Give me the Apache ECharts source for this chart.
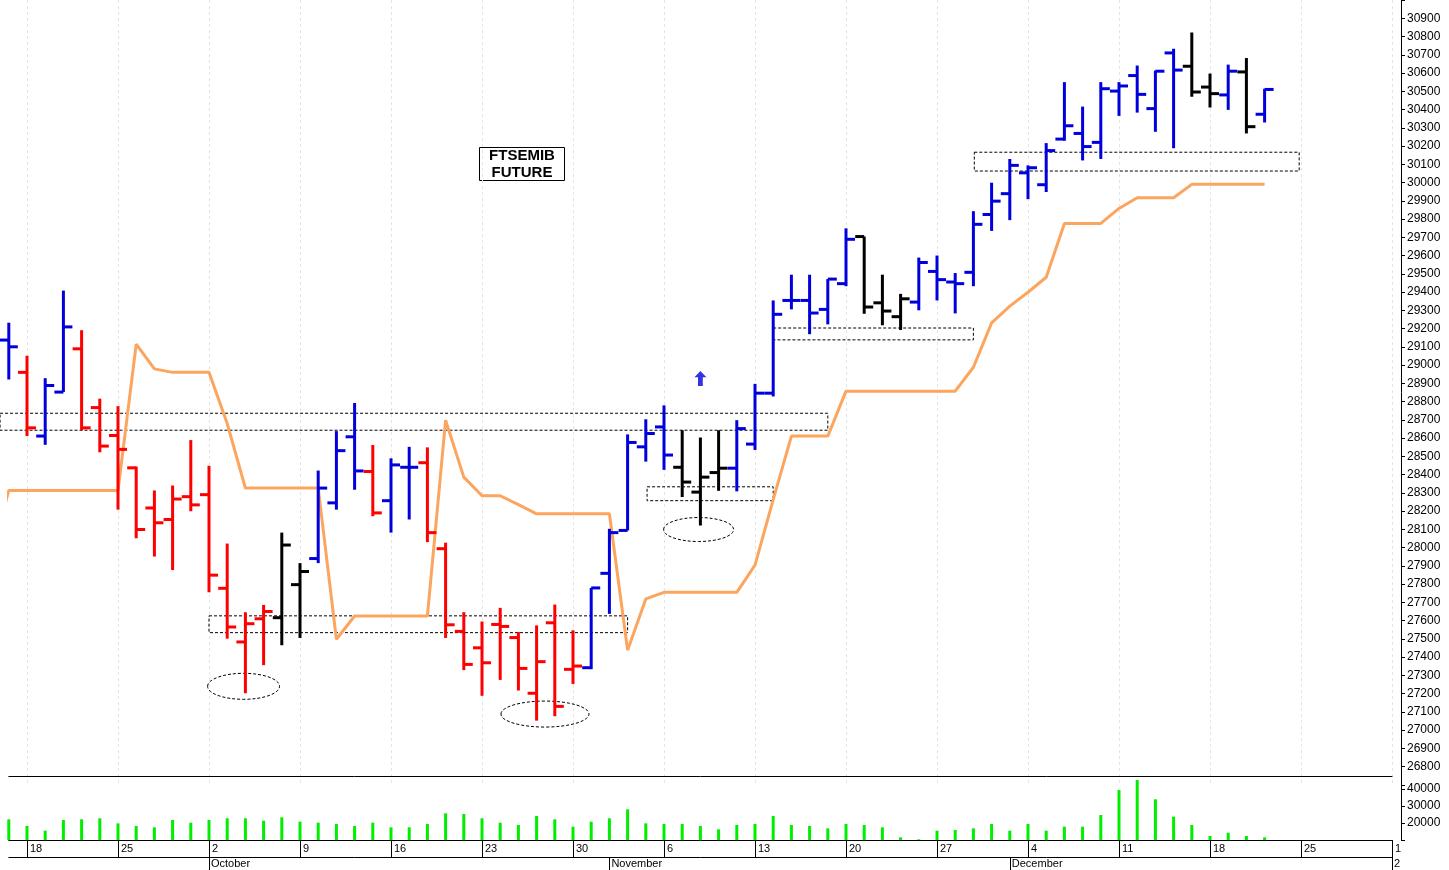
<!DOCTYPE html>
<html>
<head>
<meta charset="utf-8">
<script src="https://cdn.jsdelivr.net/npm/echarts@6/dist/echarts.min.js"></script>
<style>
  html, body { margin: 0; padding: 0; background: #fff; }
  #box { width: 1449px; height: 870px; }
</style>
</head>
<body>
<div id="box"></div>
<script>
// OHLC per trading day, index 0 = 15 Sep 2017
var opens  = [29137,28960,28611,28852,29089,28767,28614,28437,28217,28154,28279,28290,27777,27483,27610,27616,27797,27940,28245,28607,
              28417,28257,28440,28465,27994,27541,27451,27579,27507,27202,27588,27333,27342,27859,28094,28552,28661,28440,28304,28411,
              28435,28567,28846,29354,29354,29305,29446,29704,29341,29265,29345,29513,29455,29508,29825,29939,30053,29988,30238,30269,
              30220,30501,30586,30405,30710,30637,30523,30480,30606,30374]
var highs  = [29232,29051,28928,29408,29191,28816,28775,28444,28313,28340,28589,28448,28022,27646,27686,28082,27915,28422,28638,28792,
              28562,28489,28552,28549,28027,27646,27595,27670,27538,27574,27688,27547,27779,28103,28620,28703,28779,28643,28603,28643,
              28698,28897,29354,29495,29495,29471,29749,29704,29495,29390,29589,29600,29504,29843,29999,30129,30094,30216,30550,30416,
              30550,30550,30641,30613,30733,30822,30597,30646,30682,30514]
var lows   = [28921,28611,28563,28852,28643,28522,28208,28051,27951,27877,28199,27755,27501,27202,27356,27465,27505,27915,28208,28317,
              28172,28082,28154,28030,27505,27329,27188,27275,27217,27052,27076,27253,27334,27637,28094,28471,28426,28277,28121,28311,
              28308,28535,28828,29305,29169,29223,29432,29281,29218,29192,29300,29354,29283,29432,29735,29794,29909,29948,30229,30121,
              30129,30365,30383,30278,30188,30470,30411,30398,30269,30329]
var closes = [29100,28656,28888,29209,28656,28556,28538,28099,28136,28266,28234,27849,27565,27583,27650,28014,27869,28326,28531,28420,
              28190,28453,28440,28082,27577,27360,27369,27568,27338,27375,27130,27351,27779,28082,28576,28625,28507,28359,28386,28435,
              28652,28846,29278,29354,29285,29471,29689,29318,29296,29363,29562,29468,29446,29771,29898,30094,30081,30175,30311,30197,
              30514,30529,30483,30610,30616,30496,30487,30610,30306,30510]
// bar colour: b = blue, r = red, k = black
var barColors = 'brbbrrrrrrrrrrrkkbbbrbbrrrrrrrrrbbbbbkkkbbbbbbbkkkbbbbbbbbbbbbbbbkkbkb'.split('')
var volumes = [22170,18235,15490,21765,22170,22760,19800,18235,17450,21765,20200,21765,22760,22760,21370,23350,20790,20200,19410,18235,
               20200,17450,17450,19410,25690,25300,22760,20200,18820,24120,22170,17840,20790,22760,28040,19800,19410,19410,18235,16270,
               18820,19410,24120,18820,18235,16860,19410,18820,17450,11570,10390,15490,15880,16860,19410,15490,19410,15490,17840,17840,
               24700,39410,45290,33940,23720,18820,12350,14290,12350,11570]
// orange stop line
var stopX = [-0.48,0,1,2,3,4,5,6,7,8,9,10,11,12,13,14,15,16,17,18,19,20,21,22,23,24,25,26,27,28,29,30,31,32,33,34,35,36,37,38,39,40,
             41,42,43,44,45,46,47,48,49,50,51,52,53,54,55,56,57,58,59,60,61,62,63,64,65,66,67,68,69]
var stopY = [28138,28313,28313,28313,28313,28313,28313,28313,29115,28979,28960,28960,28960,28680,28326,28326,28326,28326,28326,27498,27625,
             27625,27625,27625,27625,28698,28386,28284,28284,28235,28185,28185,28185,28185,28185,27438,27719,27755,27755,27755,27755,27755,
             27904,28263,28611,28611,28611,28857,28857,28857,28857,28857,28857,28857,28988,29231,29323,29399,29481,29776,29776,29776,
             29858,29917,29917,29917,29990,29990,29990,29990,29990]
// dashed boxes [x0, x1, priceTop, priceBottom]
var boxes = [[-0.48,45.0,28736,28643],[11.0,34.0,27626,27534],[35.07,42.0,28333,28257],[42.0,53.0,29203,29138],[53.05,70.9,30166,30063]]
// dashed ellipses [x, price, widthPx, heightPx]
var ellipses = [[12.9,27240,72,26],[29.46,27088,88,26],[37.9,28099,70,24]]
var arrows = [[38,28926]]

var monthNames = {9:'October',10:'November',11:'December',0:'2'}
var days = []
var d = new Date(2017, 8, 15)
while (days.length < 77) {
    if (d.getDay() % 6 !== 0) days.push(new Date(d))
    d.setDate(d.getDate() + 1)
}
var dayCats = days.map(function (x, i) { return String(i) })
var isMonday = function (i) { return days[i].getDay() === 1 }
var isMonthStart = function (i) { return i > 0 && days[i].getMonth() !== days[i - 1].getMonth() }

var colorMap = { b: '#0000dd', r: '#ff0000', k: '#000000' }
var ohlc = opens.map(function (o, i) { return [i, o, highs[i], lows[i], closes[i], barColors[i]] })

var Chart = echarts.init(document.getElementById('box'))
var font = 'Liberation Sans'
var option = {
    animation: false,
    backgroundColor: '#fff',
    textStyle: { fontFamily: font },
    grid: [
        { left: 8.8, width: 1383.2, top: -5.9, height: 790.78 },
        { left: 8.8, width: 1383.2, top: 776, height: 64, show: true, backgroundColor: '#fff', borderWidth: 0 }
    ],
    graphic: [{
        type: 'group', left: 479, top: 147,
        children: [
            { type: 'rect', shape: { x: 0, y: 0, width: 85, height: 33 }, style: { fill: '#fff', stroke: '#000', lineWidth: 1 } },
            { type: 'text', x: 42.5, y: 16.5, style: { text: 'FTSEMIB\nFUTURE', fill: '#000', font: 'bold 15px "Liberation Sans"', align: 'center', verticalAlign: 'middle', lineHeight: 17 } }
        ]
    }],
    xAxis: [
        { type: 'category', gridIndex: 0, data: dayCats, boundaryGap: false, axisLine: { show: false }, axisTick: { show: false }, axisLabel: { show: false },
          splitLine: { show: true, interval: function (i) { return isMonday(i) }, lineStyle: { color: '#e4e4e4', type: [3, 3] } } },
        { type: 'value', gridIndex: 0, min: 0, max: 76, show: false },
        { type: 'category', gridIndex: 1, data: dayCats, boundaryGap: false, position: 'bottom',
          axisLine: { onZero: false, lineStyle: { color: '#000' } },
          axisTick: { interval: function (i) { return isMonday(i) }, length: 17, lineStyle: { color: '#000' } },
          axisLabel: { interval: function (i) { return isMonday(i) }, formatter: function (v) { return days[+v].getDate() },
                       align: 'left', padding: [0, 0, 0, 3], margin: 3, fontSize: 11, color: '#000', fontFamily: font } },
        { type: 'category', gridIndex: 1, data: dayCats, boundaryGap: false, position: 'bottom', offset: 17,
          axisLine: { onZero: false, lineStyle: { color: '#000' } },
          axisTick: { interval: function (i) { return isMonthStart(i) }, length: 13, lineStyle: { color: '#000' } },
          axisLabel: { interval: function (i) { return isMonthStart(i) }, formatter: function (v) { return monthNames[days[+v].getMonth()] },
                       align: 'left', padding: [0, 0, 0, 2], margin: 1, fontSize: 11, color: '#000', fontFamily: font } },
        { type: 'category', gridIndex: 1, data: dayCats, boundaryGap: false, position: 'top',
          axisLine: { onZero: false, lineStyle: { color: '#000' } }, axisTick: { show: false }, axisLabel: { show: false } },
        { type: 'value', gridIndex: 1, min: 0, max: 76, show: false }
    ],
    yAxis: [
        { type: 'value', gridIndex: 0, position: 'right', offset: 9, min: 26700, max: 31000, interval: 100, splitLine: { show: false },
          axisLine: { show: true, onZero: false, lineStyle: { color: '#000' } }, axisTick: { show: true, length: 4, lineStyle: { color: '#000' } },
          axisLabel: { fontSize: 12, color: '#000', margin: 6, fontFamily: font,
                       formatter: function (v) { return (v === 26700 || v === 31000) ? '' : v } } },
        { type: 'value', gridIndex: 1, position: 'right', offset: 9, min: 10000, max: 47650, interval: 10000, splitLine: { show: false },
          axisLine: { show: true, onZero: false, lineStyle: { color: '#000' } }, axisTick: { show: true, length: 4, lineStyle: { color: '#000' } },
          axisLabel: { fontSize: 12, color: '#000', margin: 6, fontFamily: font, showMaxLabel: false,
                       formatter: function (v) { return (v === 10000 || v % 10000) ? '' : v } } }
    ],
    series: [
        {
            type: 'line', xAxisIndex: 1, yAxisIndex: 0, data: stopX.map(function (x, i) { return [x, stopY[i]] }),
            symbol: 'none', lineStyle: { color: '#fba55e', width: 3 }, clip: false, z: 2
        },
        {
            type: 'custom', xAxisIndex: 1, yAxisIndex: 0, data: ohlc, clip: false, z: 3,
            renderItem: function (params, api) {
                var x = api.coord([api.value(0), api.value(2)])[0]
                var h = api.coord([api.value(0), api.value(2)])[1]
                var l = api.coord([api.value(0), api.value(3)])[1]
                var o = api.coord([api.value(0), api.value(1)])[1]
                var c = api.coord([api.value(0), api.value(4)])[1]
                var st = { stroke: colorMap[ohlc[params.dataIndex][5]], lineWidth: 3 }
                return { type: 'group', children: [
                    { type: 'line', shape: { x1: x, y1: h, x2: x, y2: l }, style: st },
                    { type: 'line', shape: { x1: x - 9, y1: o, x2: x, y2: o }, style: st },
                    { type: 'line', shape: { x1: x, y1: c, x2: x + 9, y2: c }, style: st }
                ] }
            }
        },
        {
            type: 'custom', xAxisIndex: 1, yAxisIndex: 0, data: boxes, clip: false, z: 1,
            renderItem: function (params, api) {
                var p0 = api.coord([api.value(0), api.value(2)])
                var p1 = api.coord([api.value(1), api.value(3)])
                return { type: 'rect', shape: { x: p0[0], y: p0[1], width: p1[0] - p0[0], height: p1[1] - p0[1] },
                         style: { fill: 'none', stroke: '#000', lineWidth: 1, lineDash: [3, 2] } }
            }
        },
        {
            type: 'custom', xAxisIndex: 1, yAxisIndex: 0, data: ellipses, clip: false, z: 1,
            renderItem: function (params, api) {
                var p = api.coord([api.value(0), api.value(1)])
                return { type: 'ellipse', shape: { cx: p[0], cy: p[1], rx: api.value(2) / 2, ry: api.value(3) / 2 },
                         style: { fill: 'none', stroke: '#000', lineWidth: 1, lineDash: [3, 2] } }
            }
        },
        {
            type: 'scatter', xAxisIndex: 1, yAxisIndex: 0, data: arrows, z: 3,
            symbol: 'path://M5,0 L10,5 L7,5 L7,12 L3,12 L3,5 L0,5 Z', symbolSize: [12, 15],
            itemStyle: { color: '#0000dd' }
        },
        {
            type: 'custom', xAxisIndex: 5, yAxisIndex: 1, data: volumes.map(function (v, i) { return [i, v] }), clip: false,
            renderItem: function (params, api) {
                var top = api.coord([api.value(0), api.value(1)])
                var base = api.coord([api.value(0), 10000])
                return { type: 'line', shape: { x1: top[0], y1: top[1], x2: base[0], y2: base[1] },
                         style: { stroke: '#00ee00', lineWidth: 3 } }
            }
        }
    ]
}
Chart.setOption(option)
</script>
</body>
</html>
